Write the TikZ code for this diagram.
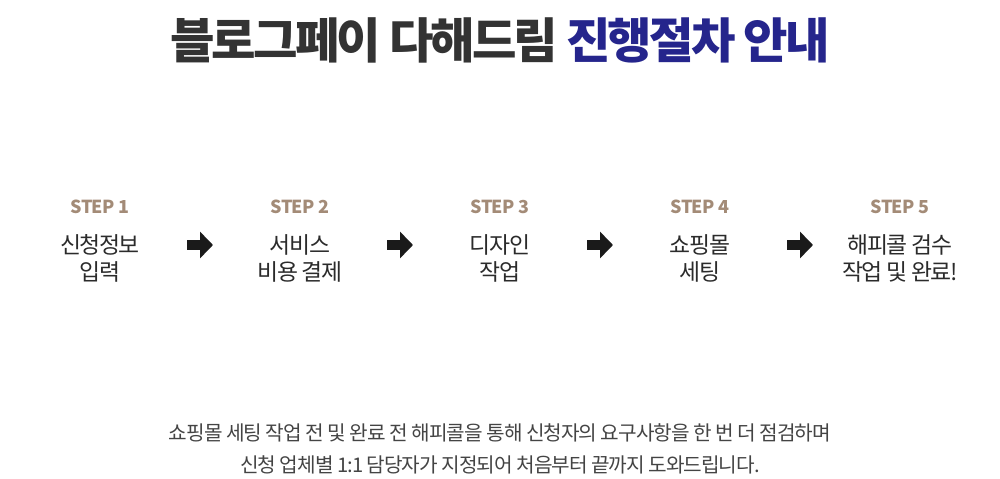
\documentclass[tikz,border=0pt]{standalone}
\usepackage{fontspec}
\setmainfont{Noto Sans CJK KR}
\newfontfamily\krtitle[LetterSpace=-6]{Noto Sans CJK KR}
\newfontfamily\krstep[LetterSpace=-3]{Noto Sans CJK KR}
\newfontfamily\krbody[LetterSpace=-6]{Noto Sans CJK KR}
\newfontfamily\krnote[LetterSpace=-5]{Noto Sans CJK KR}
\usetikzlibrary{arrows.meta,positioning}
\definecolor{titlegray}{HTML}{333333}
\definecolor{titlenavy}{HTML}{25258C}
\definecolor{steptan}{HTML}{A38B77}
\definecolor{bodygray}{HTML}{2B2B2B}
\definecolor{notegray}{HTML}{444444}
\definecolor{arrowblack}{HTML}{1A1A1A}
\tikzset{
  pagetitle/.style={
    font=\krtitle\bfseries\fontsize{27.5}{32}\selectfont, text=titlegray,
    inner sep=0pt
  },
  steplabel/.style={
    font=\krstep\bfseries\fontsize{10.2}{12}\selectfont, text=steptan,
    inner sep=0pt
  },
  stepbody/.style={
    font=\krbody\fontsize{13}{15.4}\selectfont, text=bodygray,
    align=center, inner sep=0pt
  },
  steparrow/.style={
    -{Triangle[length=0.26cm,width=0.52cm]}, line width=0.2cm,
    draw=arrowblack
  },
  note/.style={
    font=\krnote\fontsize{11.5}{18.2}\selectfont, text=notegray,
    align=center, inner sep=0pt
  },
}

\begin{document}
\begin{tikzpicture}[x=0.02cm,y=-0.02cm]
  \useasboundingbox (0,0) rectangle (1000,479);

  % Title
  \node[pagetitle] (title) at (500,40)
    {블로그페이 다해드림 {\color{titlenavy}진행절차 안내}};

  % Steps
  \foreach \txt [count=\i] in {{신청정보\\입력},{서비스\\비용 결제},
      {디자인\\작업},{쇼핑몰\\세팅},{해피콜 검수\\작업 및 완료!}} {
    \node[steplabel] (s\i) at (200*\i-100,207) {STEP \i};
    \node[stepbody] (b\i) at (200*\i-100,258) {\txt};
  }

  % Arrows between steps
  \foreach \i in {1,...,4} {
    \coordinate (a\i w) at (200*\i-13,245);
    \coordinate (a\i e) at (200*\i+13,245);
    \draw[steparrow] (a\i w) -- (a\i e);
  }

  % Note
  \node[note] (note) at (500,449)
    {쇼핑몰 세팅 작업 전 및 완료 전 해피콜을 통해 신청자의 요구사항을 한 번 더 점검하며\\
     신청 업체별 1:1 담당자가 지정되어 처음부터 끝까지 도와드립니다.};

\end{tikzpicture}
\end{document}
